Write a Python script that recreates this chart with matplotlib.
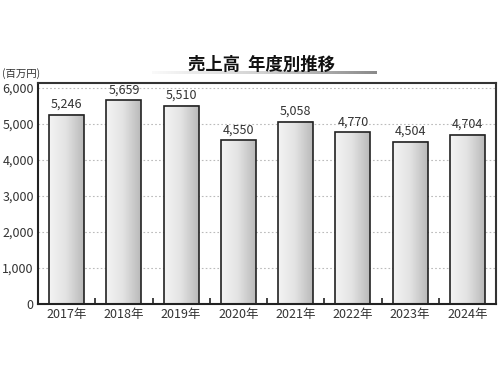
import matplotlib
matplotlib.use("Agg")
import matplotlib.pyplot as plt
import numpy as np

plt.rcParams['font.family'] = ['Noto Sans CJK JP', 'DejaVu Sans']

years = ["2017年", "2018年", "2019年", "2020年", "2021年", "2022年", "2023年", "2024年"]
sales = [5246, 5659, 5510, 4550, 5058, 4770, 4504, 4704]
yticks = [0, 1000, 2000, 3000, 4000, 5000, 6000]
title = "売上高  年度別推移"
unit = "(百万円)"

fig = plt.figure(figsize=(5, 3.75), dpi=100)
ax = fig.add_axes([0.076, 0.189, 0.916, 0.590])

x = np.arange(len(years))
width = 0.61
bars = ax.bar(x, sales, width=width, color="none", edgecolor="#222222", linewidth=1.2, zorder=3)

# horizontal gradient inside each bar
grad = np.linspace(0, 1, 256).reshape(1, -1)
cmap = matplotlib.colors.LinearSegmentedColormap.from_list("g", ["#f4f4f4", "#e2e2e2", "#b9b9b9"])
for b in bars:
    ax.imshow(grad, cmap=cmap, aspect="auto", zorder=2,
              extent=[b.get_x(), b.get_x() + b.get_width(), 0, b.get_height()])

for xi, v in zip(x, sales):
    ax.text(xi, v + 110, f"{v:,}", ha="center", va="bottom", fontsize=9, color="#333333", zorder=4)

ax.set_xlim(-0.5, len(years) - 0.5)
ax.set_ylim(0, 6140)
ax.set_yticks(yticks)
ax.set_yticklabels([f"{t:,}" for t in yticks], fontsize=9, color="#333333")
ax.set_xticks(x)
ax.set_xticklabels(years, fontsize=9, color="#333333")
ax.tick_params(axis="both", length=0, pad=3)
ax.set_xticks(x[:-1] + 0.5, minor=True)
ax.tick_params(axis="x", which="minor", direction="in", length=4, width=1.2, color="#222222")

ax.grid(axis="y", linestyle=(0, (1.5, 2)), color="#bbbbbb", linewidth=0.8, zorder=1)
for s in ["left", "bottom"]:
    ax.spines[s].set_linewidth(1.5)
    ax.spines[s].set_color("#222222")
for s in ["top", "right"]:
    ax.spines[s].set_linewidth(1.5)
    ax.spines[s].set_color("#333333")

fig.text(0.522, 0.828, title, ha="center", va="center", fontsize=12.5, fontweight="bold", color="#111111")
fig.text(0.004, 0.805, unit, ha="left", va="center", fontsize=7.5, color="#333333")

# gradient underline under the title
uax = fig.add_axes([152 / 500, 1 - 74 / 375, 225 / 500, 3.5 / 375])
ucmap = matplotlib.colors.LinearSegmentedColormap.from_list("u", ["#fafafa", "#d0d0d0", "#8a8a8a"])
uax.imshow(grad, cmap=ucmap, aspect="auto")
uax.axis("off")

fig.savefig("out.png", dpi=100)
